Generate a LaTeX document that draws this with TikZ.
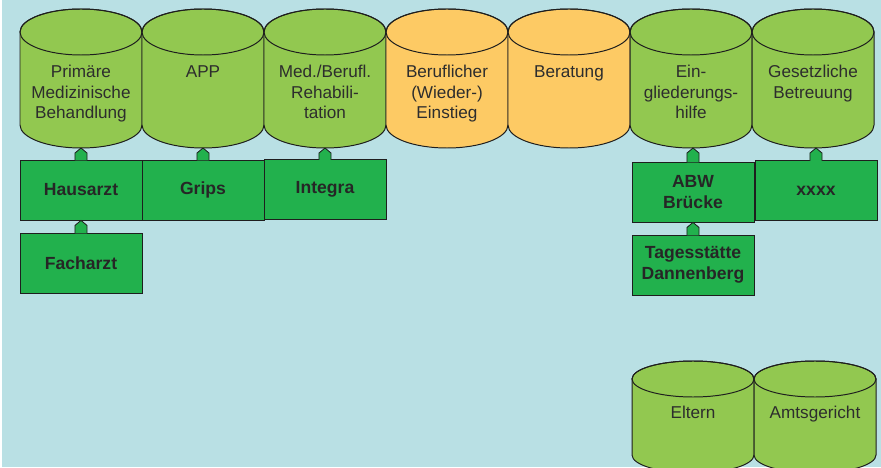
\documentclass[tikz,border=0pt]{standalone}
\usepackage{fontspec}
\setmainfont{Liberation Sans}
\usetikzlibrary{calc}

\definecolor{hintergrund}{RGB}{185,224,228}
\definecolor{hellgruen}{RGB}{146,200,80}
\definecolor{orangeton}{RGB}{253,202,100}
\definecolor{kastengruen}{RGB}{34,177,77}
\definecolor{rand}{RGB}{30,30,30}
\definecolor{schrift}{RGB}{45,45,45}

% tonne: x, y oben, y unten, ry, farbe
\newcommand{\tonne}[5]{%
  \filldraw[fill=#5, draw=rand, line width=0.7pt] (#1-61,#2) -- (#1-61,#3)
    arc[start angle=180, end angle=360, x radius=61, y radius=#4] -- (#1+61,#2)
    arc[start angle=0, end angle=180, x radius=61, y radius=#4] -- cycle;
  \draw[rand, line width=0.7pt] (#1,#2) ellipse[x radius=61, y radius=#4];
}

\tikzset{
  tontext/.style={anchor=north, align=center, inner sep=0pt, text=schrift,
    font=\fontsize{12.2}{14.6}\selectfont},
  kasten/.style={draw=rand, line width=0.6pt, fill=kastengruen,
    minimum width=3.05cm, minimum height=1.5cm, align=center, inner sep=0pt,
    text=black!85, font=\fontsize{12.5}{15}\selectfont\bfseries},
  lasche/.style={fill=kastengruen, draw=rand, line width=0.6pt,
    to path={let \p1=(\tikztostart), \p2=(\tikztotarget) in
      (\x1-4.3pt,\y1-0.5pt) -- (\x1-4.3pt,\y2-3.6pt) -- (\x1,\y2)
      -- (\x1+4.3pt,\y2-3.6pt) -- (\x1+4.3pt,\y1-0.5pt)}}
}

\begin{document}
\begin{tikzpicture}[x=0.025cm, y=0.025cm]

% hintergrund
\useasboundingbox (0,0) rectangle (881,467);
\fill[hintergrund] (2,0) rectangle (881,467);

% tonnen oben
\tonne{81}{435}{342}{23}{hellgruen}
\tonne{203}{435}{342}{23}{hellgruen}
\tonne{325}{435}{342}{23}{hellgruen}
\tonne{447}{435}{342}{23}{orangeton}
\tonne{569}{435}{342}{23}{orangeton}
\tonne{691}{435}{342}{23}{hellgruen}
\tonne{813}{435}{342}{23}{hellgruen}

% tonnen unten
\tonne{693}{88}{12}{18}{hellgruen}
\tonne{815}{88}{12}{18}{hellgruen}

\node[tontext] (primaer) at (81,402) {Primäre\\Medizinische\\Behandlung};
\node[tontext] (app) at (203,402) {APP};
\node[tontext] (reha) at (325,402) {Med./Berufl.\\Rehabili-\\tation};
\node[tontext] (beruf) at (447,402) {Beruflicher\\(Wieder-)\\Einstieg};
\node[tontext] (beratung) at (569,402) {Beratung};
\node[tontext] (eingl) at (691,402) {Ein-\\gliederungs-\\hilfe};
\node[tontext] (betreuung) at (813,402) {Gesetzliche\\Betreuung};
\node[tontext] (eltern) at (693,61) {Eltern};
\node[tontext] (amtsgericht) at (815,61) {Amtsgericht};

\coordinate (primaer-b) at (81,319);
\coordinate (app-b) at (203,319);
\coordinate (reha-b) at (325,319);
\coordinate (eingl-b) at (691,319);
\coordinate (betreuung-b) at (813,319);

% kaesten
\node[kasten] (hausarzt) at (81,277) {Hausarzt};
\node[kasten] (grips) at (203,277) {Grips};
\node[kasten] (integra) at (325,277.5) {Integra};
\node[kasten] (facharzt) at (81,204) {Facharzt};
\node[kasten] (abw) at (693,275) {ABW\\Brücke};
\node[kasten] (xxxx) at (816,276.5) {xxxx};
\node[kasten] (tagesstaette) at (693,202) {Tagesstätte\\Dannenberg};

% laschen
\draw[lasche] (hausarzt.north) to (primaer-b);
\draw[lasche] (grips.north) to (app-b);
\draw[lasche] (integra.north) to (reha-b);
\draw[lasche] (facharzt.north) to (hausarzt.south);
\draw[lasche] (abw.north) to (eingl-b);
\draw[lasche] (xxxx.north) to (betreuung-b);
\draw[lasche] (tagesstaette.north) to (abw.south);

\end{tikzpicture}
\end{document}
